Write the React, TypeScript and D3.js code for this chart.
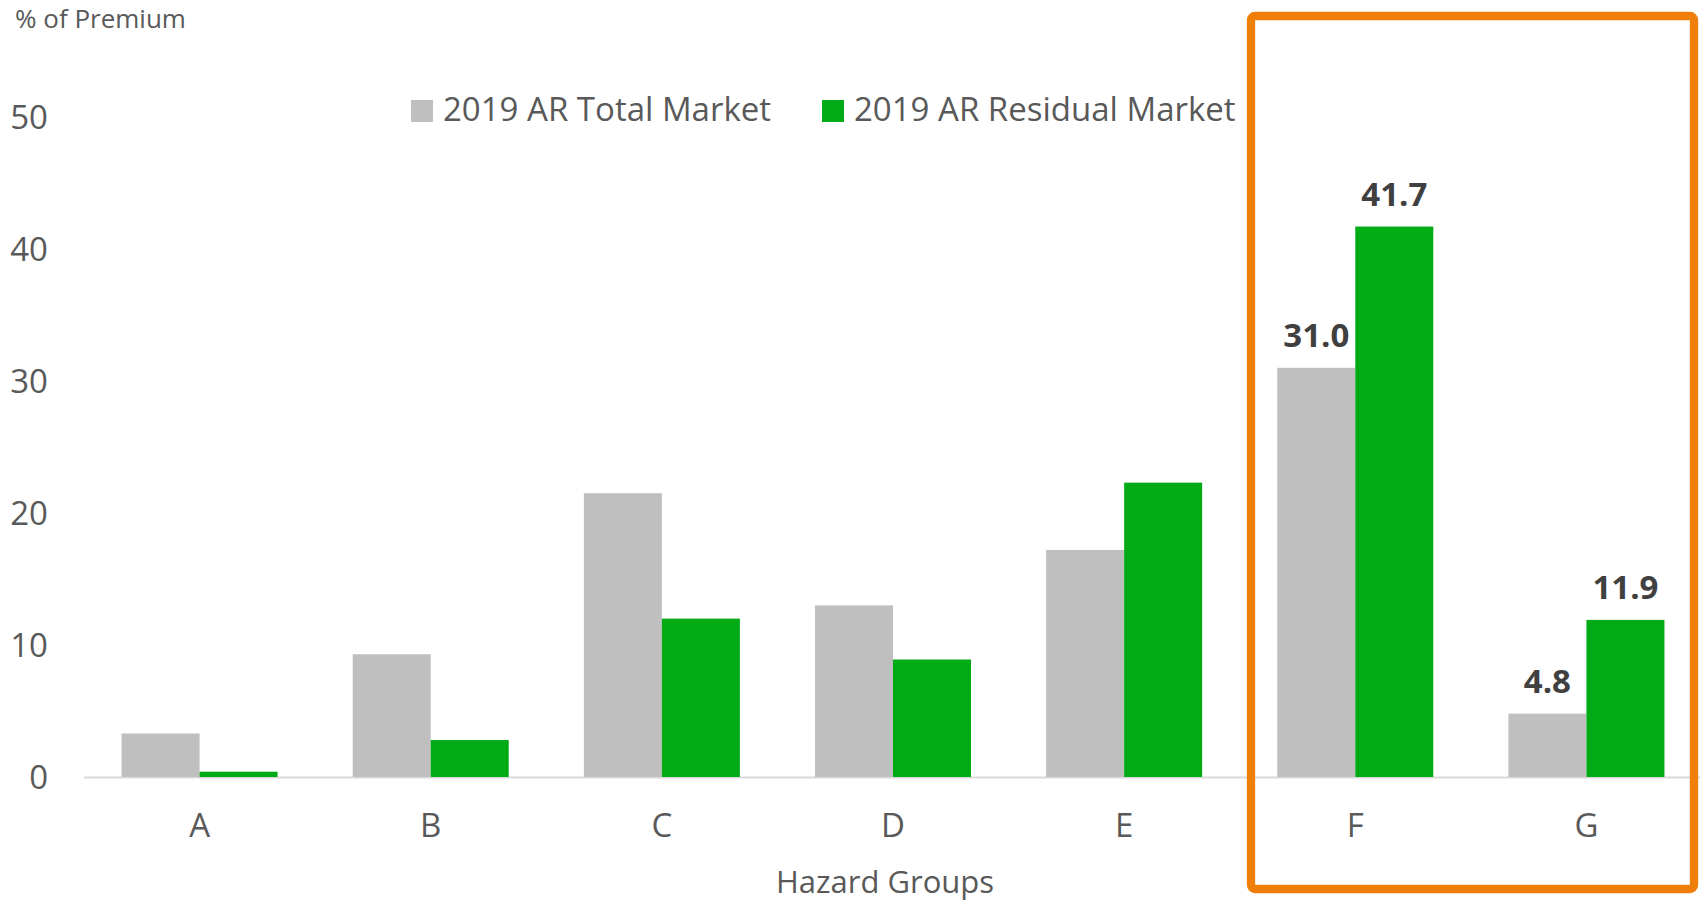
import React, { useEffect, useRef } from "react";
import * as d3 from "d3";

const hazardGroups = ["A", "B", "C", "D", "E", "F", "G"];
const seriesNames = ["2019 AR Total Market", "2019 AR Residual Market"];
const totalMarket = [3.3, 9.3, 21.5, 13.0, 17.2, 31.0, 4.8];
const residualMarket = [0.4, 2.8, 12.0, 8.9, 22.3, 41.7, 11.9];
const yTicks = [0, 10, 20, 30, 40, 50];
// groups whose values get a bold label (the boxed ones)
const labelledGroups = ["F", "G"];

const colors = ["#bfbfbf", "#00ab15"];
const textColor = "#595959";
const font = "'Open Sans', 'Noto Sans', sans-serif";

export default function App() {
  const svgRef = useRef<SVGSVGElement>(null);
  const width = 1700;
  const height = 901;

  useEffect(() => {
    const svg = d3.select(svgRef.current);
    svg.selectAll("*").remove();

    const x0 = d3
      .scaleBand<string>()
      .domain(hazardGroups)
      .range([84, 1702])
      .paddingInner(0.325)
      .paddingOuter(0.1625);

    const x1 = d3
      .scaleBand<number>()
      .domain([0, 1])
      .range([0, x0.bandwidth()]);

    const y = d3.scaleLinear().domain([0, 50]).range([777, 117]);

    // y axis title
    svg
      .append("text")
      .attr("x", 15)
      .attr("y", 28)
      .attr("fill", textColor)
      .style("font-family", font)
      .style("font-size", "26px")
      .text("% of Premium");

    // y tick labels (no gridlines in the original)
    svg
      .append("g")
      .selectAll("text")
      .data(yTicks)
      .join("text")
      .attr("x", 48)
      .attr("y", (d) => y(d) + 12)
      .attr("text-anchor", "end")
      .attr("fill", textColor)
      .style("font-family", font)
      .style("font-size", "33px")
      .text((d) => d);

    // baseline
    svg
      .append("line")
      .attr("x1", 84)
      .attr("x2", width)
      .attr("y1", y(0) + 0.5)
      .attr("y2", y(0) + 0.5)
      .attr("stroke", "#d9d9d9")
      .attr("stroke-width", 2);

    const series = [totalMarket, residualMarket];

    const groups = svg
      .append("g")
      .selectAll("g")
      .data(hazardGroups)
      .join("g")
      .attr("transform", (d) => `translate(${x0(d)},0)`);

    groups
      .selectAll("rect")
      .data((d, i) => series.map((s, k) => ({ k, v: s[i] })))
      .join("rect")
      .attr("x", (d) => x1(d.k)!)
      .attr("width", x1.bandwidth())
      .attr("y", (d) => y(d.v))
      .attr("height", (d) => y(0) - y(d.v))
      .attr("fill", (d) => colors[d.k]);

    // bold value labels on F and G
    groups
      .filter((d) => labelledGroups.includes(d))
      .selectAll("text")
      .data((d) => {
        const i = hazardGroups.indexOf(d);
        return series.map((s, k) => ({ k, v: s[i] }));
      })
      .join("text")
      .attr("x", (d) => x1(d.k)! + x1.bandwidth() / 2)
      .attr("y", (d) => y(d.v) - 21)
      .attr("text-anchor", "middle")
      .attr("fill", "#404040")
      .style("font-family", font)
      .style("font-size", "33px")
      .style("font-weight", "bold")
      .text((d) => d.v.toFixed(1));

    // category labels
    svg
      .append("g")
      .selectAll("text")
      .data(hazardGroups)
      .join("text")
      .attr("x", (d) => x0(d)! + x0.bandwidth() / 2)
      .attr("y", 837)
      .attr("text-anchor", "middle")
      .attr("fill", textColor)
      .style("font-family", font)
      .style("font-size", "33px")
      .text((d) => d);

    // x axis title
    svg
      .append("text")
      .attr("x", 885)
      .attr("y", 893)
      .attr("text-anchor", "middle")
      .attr("fill", textColor)
      .style("font-family", font)
      .style("font-size", "31px")
      .text("Hazard Groups");

    // legend
    const legendX = [411, 822];
    const legend = svg
      .append("g")
      .selectAll("g")
      .data(seriesNames)
      .join("g")
      .attr("transform", (d, i) => `translate(${legendX[i]},100)`);

    legend
      .append("rect")
      .attr("width", 22)
      .attr("height", 22)
      .attr("fill", (d, i) => colors[i]);

    legend
      .append("text")
      .attr("x", 32)
      .attr("y", 21)
      .attr("fill", textColor)
      .style("font-family", font)
      .style("font-size", "33px")
      .text((d) => d);

    // orange highlight box around F and G
    svg
      .append("rect")
      .attr("x", 1251)
      .attr("y", 16)
      .attr("width", 443)
      .attr("height", 873)
      .attr("rx", 4)
      .attr("fill", "none")
      .attr("stroke", "#f07f09")
      .attr("stroke-width", 8.3);
  }, []);

  return (
    <div style={{ position: "absolute", left: 0, top: 0 }}>
      <svg ref={svgRef} width={width} height={height} style={{ display: "block", background: "#fff" }} />
    </div>
  );
}
